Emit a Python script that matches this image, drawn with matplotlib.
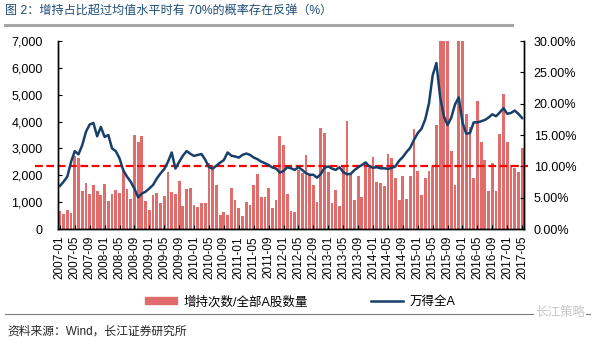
import numpy as np
import pandas as pd
import matplotlib
matplotlib.use('Agg')
import matplotlib.pyplot as plt
from matplotlib.lines import Line2D
from matplotlib.patches import Patch
from matplotlib.ticker import FuncFormatter

plt.rcParams['font.family'] = ['Liberation Sans', 'Noto Sans CJK SC']

# monthly axis 2007-01 .. 2017-05
months = pd.period_range('2007-01', '2017-05', freq='M').strftime('%Y-%m').tolist()

# 增持次数/全部A股数量 (%), values above 30 run off the top of the axis
ratio_pct = [
    2.8, 2.4, 3.0, 2.5, 11.6, 11.4, 6.1, 7.4, 5.6, 7.1, 6.1, 5.5,
    7.2, 4.4, 5.6, 6.2, 5.8, 9.4, 6.4, 4.8, 15.0, 13.9, 14.8, 4.5,
    3.0, 5.4, 5.7, 4.2, 5.2, 9.1, 5.9, 5.6, 7.7, 3.6, 6.4, 6.6,
    3.9, 3.5, 4.1, 4.1, 10.5, 9.6, 7.0, 2.2, 2.7, 2.2, 6.6, 4.6,
    3.4, 2.0, 4.3, 3.8, 7.1, 8.8, 5.1, 5.1, 6.6, 3.4, 4.6, 14.8,
    13.4, 5.6, 2.9, 2.7, 9.4, 8.9, 11.8, 8.8, 7.0, 4.3, 16.1, 15.3,
    9.1, 4.2, 6.3, 3.6, 10.1, 17.3, 8.7, 4.6, 8.4, 5.1, 10.7, 9.8,
    11.5, 7.5, 7.3, 6.9, 12.0, 11.4, 8.1, 4.7, 8.4, 4.8, 8.4, 16.0,
    9.2, 5.5, 8.1, 9.3, 9.9, 16.6, 42.0, 38.0, 35.0, 12.4, 7.0, 36.0,
    40.0, 18.4, 16.3, 8.2, 20.4, 13.9, 11.0, 6.1, 10.5, 6.1, 15.2, 21.6,
    13.9, 10.2, 9.7, 9.1, 13.0,
]

# 万得全A month-end level
wind_a = [
    1600, 1760, 1950, 2500, 2900, 2780, 3120, 3620, 3890, 3950, 3450, 3800,
    3430, 3500, 3000, 2900, 2630, 2190, 1950, 1760, 1500, 1180, 1320, 1390,
    1510, 1640, 1880, 2070, 2230, 2500, 2850, 2250, 2500, 2730, 2900, 2800,
    2720, 2760, 2790, 2580, 2300, 2250, 2360, 2470, 2570, 2850, 2730, 2700,
    2660, 2760, 2810, 2760, 2660, 2600, 2510, 2450, 2380, 2290, 2250, 2100,
    2160, 2300, 2260, 2200, 2300, 2200, 2080, 2020, 2020, 1910, 2050, 2280,
    2330, 2250, 2200, 2300, 2120, 2040, 2050, 2190, 2300, 2380, 2480, 2330,
    2280, 2300, 2260, 2260, 2240, 2270, 2330, 2540, 2680, 2870, 3030, 3320,
    3570, 3730, 4080, 4670, 5720, 6180, 4920, 4200, 3870, 4150, 4640, 4900,
    3970, 3550, 3570, 3970, 3970, 4010, 4060, 4150, 4270, 4200, 4340, 4500,
    4290, 4320, 4410, 4290, 4130,
]

avg_line = 10.0  # 均值水平 (%)

bar_color = '#E06C6C'
line_color = '#17406A'

x = np.arange(len(months))

fig = plt.figure(figsize=(6, 3.44), dpi=100)
ax = fig.add_axes([58 / 600, 1 - 229 / 344, 466 / 600, 188 / 344])
ax2 = ax.twinx()
ax.set_zorder(ax2.get_zorder() + 1)
ax.patch.set_visible(False)

ax2.bar(x, ratio_pct, width=0.75, color=bar_color, edgecolor='none', zorder=1)
ax2.axhline(avg_line, xmin=-0.049, xmax=1.008, color='#FF0000', lw=1.6,
            ls=(0, (3.5, 1.6)), clip_on=False, zorder=3)
ax.plot(x, wind_a, color=line_color, lw=1.8, solid_joinstyle='round')

ax.set_xlim(-0.5, len(months) - 0.5)
ax.set_ylim(0, 7000)
ax2.set_ylim(0, 30)
ax.set_yticks(np.arange(0, 7001, 1000))
ax2.set_yticks(np.arange(0, 30.1, 5))
ax.yaxis.set_major_formatter(FuncFormatter(lambda v, p: f'{v:,.0f}'))
ax2.yaxis.set_major_formatter(FuncFormatter(lambda v, p: f'{v:.2f}%'))

ax.set_xticks(x[::4])
ax.set_xticklabels(months[::4], rotation=90, fontsize=8.5)

for a in (ax, ax2):
    a.spines['top'].set_visible(False)
    for s in ('left', 'right', 'bottom'):
        a.spines[s].set_color('black')
        a.spines[s].set_linewidth(1.0)
ax.tick_params(axis='y', direction='in', length=3, labelsize=9, pad=11)
ax2.tick_params(axis='y', direction='in', length=3, labelsize=9, pad=7)
ax.tick_params(axis='x', direction='in', length=3, pad=5)

handles = [Patch(color=bar_color), Line2D([], [], color=line_color, lw=1.8)]
fig.legend(handles, ['增持次数/全部A股数量', '万得全A'], loc='center',
           bbox_to_anchor=(300 / 600, 1 - 302 / 344), ncol=2, frameon=False,
           fontsize=9, handlelength=2.6, handleheight=0.45, columnspacing=5,
           handletextpad=0.5)

fig.text(5 / 600, 1 - 11 / 344, '图 2：增持占比超过均值水平时有 70%的概率存在反弹（%）',
         fontsize=8.7, color='#1F4E79', va='center', ha='left')
fig.add_artist(Line2D([5 / 600, 512 / 600], [1 - 25 / 344] * 2, color='#A6A6A6', lw=2.2))
fig.add_artist(Line2D([5 / 600, 590 / 600], [1 - 314 / 344] * 2, color='#7F7F7F', lw=0.8))
fig.text(7 / 600, 1 - 332 / 344, '资料来源：Wind，长江证券研究所', fontsize=8.5,
         color='#262626', va='center', ha='left')
fig.text(585 / 600, 1 - 313 / 344, '长江策略', fontsize=9, color='#C8C8C8',
         va='center', ha='right', zorder=5,
         bbox=dict(facecolor='white', edgecolor='none', pad=1))

fig.savefig('out.png', dpi=100)
